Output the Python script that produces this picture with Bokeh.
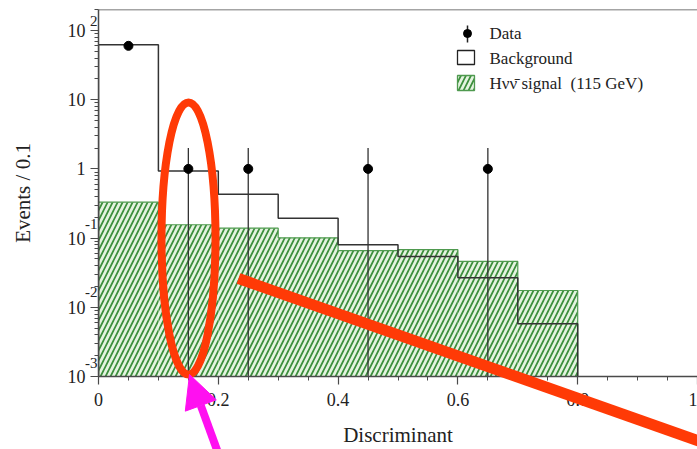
import math
from bokeh.plotting import figure
from bokeh.layouts import column, row
from bokeh.models import (Range1d, FixedTicker, CustomJSTickFormatter, Label, Span,
                          Arrow, NormalHead, ColumnDataSource)
from bokeh.embed import file_html
from bokeh.resources import INLINE

# ---------------- data ----------------
bin_edges = [0.0, 0.1, 0.2, 0.3, 0.4, 0.5, 0.6, 0.7, 0.8]
background = [62, 0.93, 0.43, 0.194, 0.080, 0.054, 0.0267, 0.0058]
signal = [0.33, 0.156, 0.139, 0.101, 0.066, 0.068, 0.046, 0.0175]
data_x = [0.05, 0.15, 0.25, 0.45, 0.65]
data_y = [60, 1, 1, 1, 1]
data_err = [7.7, 1, 1, 1, 1]

x_ticks = [0.0, 0.2, 0.4, 0.6, 0.8, 1.0]
x_tick_labels = ["0", "0.2", "0.4", "0.6", "0.8", "1"]
y_ticks = [1e-3, 1e-2, 1e-1, 1.0, 10.0, 100.0]
y_tick_labels = ["10", "10", "10", "1", "10", "10"]
y_tick_exponents = ["-3", "-2", "-1", "", "", "2"]

legend_labels = ["Data", "Background", "H\u03bd\u03bd\u0304 signal\u00a0\u00a0(115 GeV)"]
x_title = "Discriminant"
y_title = "Events / 0.1"

# ---------------- layout / style ----------------
W, H = 697, 449
L, R, T, B = 98, 0, 9, 73
Y_LO, Y_HI = 1e-3, 201.0
FONT = "Liberation Serif"
INK = "#222222"
AXIS = "#4a4a4a"
SIG_FILL = "#e4f3e0"
SIG_HATCH = "#3c8f3c"
SIG_LINE = "#4f9a4f"
RED = "#ff3a06"
MAGENTA = "#ff10f0"

LOG_LO, LOG_HI = math.log10(Y_LO), math.log10(Y_HI)
FRAME_W = W - L - R
FRAME_H = H - T - B


def dx(px):
    return (px - L) / FRAME_W


def dy(py):
    return 10 ** (LOG_LO + (T + FRAME_H - py) / FRAME_H * (LOG_HI - LOG_LO))


def to_py(v):
    return T + FRAME_H * (LOG_HI - math.log10(v)) / (LOG_HI - LOG_LO)


p = figure(width=W, height=H, x_range=Range1d(0, 1), y_range=Range1d(Y_LO, Y_HI),
           y_axis_type="log", output_backend="svg", toolbar_location=None,
           min_border_left=L, min_border_right=R, min_border_top=T, min_border_bottom=B)
p.outline_line_color = None
p.grid.visible = False
p.background_fill_color = "white"
p.border_fill_color = "white"

for ax in (p.xaxis[0], p.yaxis[0]):
    ax.axis_line_color = AXIS
    ax.axis_line_width = 1.5
    ax.major_tick_line_color = AXIS
    ax.major_tick_line_width = 1.2
    ax.major_tick_in = 0
    ax.major_tick_out = 8
    ax.minor_tick_line_color = AXIS
    ax.minor_tick_line_width = 1
    ax.minor_tick_in = 0
    ax.minor_tick_out = 4
    ax.major_label_text_font = FONT
    ax.major_label_text_font_size = "18px"
    ax.major_label_text_color = INK
    ax.axis_label_text_font = FONT
    ax.axis_label_text_font_size = "21px"
    ax.axis_label_text_font_style = "normal"
    ax.axis_label_text_color = INK

p.xaxis.ticker = FixedTicker(ticks=x_ticks, minor_ticks=[i * 0.05 for i in range(21)])
p.xaxis.formatter = CustomJSTickFormatter(args=dict(tvals=x_ticks, tlabels=x_tick_labels), code="""
let best = 0, bd = Infinity;
for (let i = 0; i < tvals.length; i++) { const d = Math.abs(tvals[i] - tick); if (d < bd) { bd = d; best = i; } }
return tlabels[best];
""")
p.xaxis.major_label_standoff = 8
p.xaxis.axis_label = x_title
p.xaxis.axis_label_standoff = 14

p.yaxis.ticker = FixedTicker(ticks=y_ticks,
                             minor_ticks=[m * 10 ** k for k in range(-3, 3) for m in range(2, 10)])
p.yaxis.formatter = CustomJSTickFormatter(args=dict(tvals=y_ticks, tlabels=y_tick_labels), code="""
let best = 0, bd = Infinity;
for (let i = 0; i < tvals.length; i++) { const d = Math.abs(Math.log10(tvals[i]) - Math.log10(tick)); if (d < bd) { bd = d; best = i; } }
return tlabels[best];
""")
p.yaxis.major_label_standoff = 5
p.yaxis.axis_label = y_title
p.yaxis.axis_label_standoff = 30

# top frame line
p.add_layout(Span(location=Y_HI, dimension="width", line_color=AXIS, line_width=1.5))

# ---------------- histograms ----------------
src = ColumnDataSource(dict(left=bin_edges[:-1], right=bin_edges[1:], sig=signal, bkg=background))
floor = Y_LO / 100
HATCH = dict(hatch_pattern="/", hatch_color=SIG_HATCH, hatch_scale=10, hatch_weight=1.7)
p.quad(left="left", right="right", top="sig", bottom=floor, source=src,
       fill_color=SIG_FILL, line_color=None, **HATCH)


def step_xy(edges, vals, base):
    xs, ys = [edges[0]], [base]
    for i, v in enumerate(vals):
        xs += [edges[i], edges[i + 1]]
        ys += [v, v]
    xs.append(edges[-1])
    ys.append(base)
    return xs, ys


sx, sy = step_xy(bin_edges, signal, floor)
p.line(sx, sy, line_color=SIG_LINE, line_width=1.2)
bx, by = step_xy(bin_edges, background, floor)
p.line(bx, by, line_color="#333333", line_width=1.5)

# ---------------- data points ----------------
lo = [max(v - e, floor) for v, e in zip(data_y, data_err)]
hi = [v + e for v, e in zip(data_y, data_err)]
p.segment(x0=data_x, y0=lo, x1=data_x, y1=hi, line_color="#333333", line_width=1.3)
p.scatter(data_x, data_y, size=9, marker="circle", fill_color="black", line_color="black")

# ---------------- legend ----------------
LX = 467
p.segment(x0=[dx(LX)], y0=[dy(25)], x1=[dx(LX)], y1=[dy(42)], line_color="#222222", line_width=1.5)
p.scatter([dx(LX)], [dy(33)], size=8, marker="circle", fill_color="black", line_color="black")
p.quad(left=[dx(457)], right=[dx(474)], top=[dy(50)], bottom=[dy(64)],
       fill_color=None, line_color="#222222", line_width=1.3)
p.quad(left=[dx(457)], right=[dx(474)], top=[dy(75)], bottom=[dy(90)],
       fill_color=SIG_FILL, line_color=SIG_LINE, line_width=1.3, **HATCH)
for txt, py in zip(legend_labels, [33, 58, 83]):
    p.add_layout(Label(x=dx(489), y=dy(py), text=txt, text_baseline="middle",
                       text_font=FONT, text_font_size="17px", text_color=INK))


def overlay(borders, xr, yr):
    f = figure(width=W, height=H, x_range=Range1d(*xr), y_range=Range1d(*yr),
               output_backend="svg", toolbar_location=None,
               min_border_left=borders[0], min_border_right=borders[1],
               min_border_top=borders[2], min_border_bottom=borders[3],
               x_axis_location=None, y_axis_location=None)
    f.outline_line_color = None
    f.grid.visible = False
    f.background_fill_alpha = 0
    f.border_fill_alpha = 0
    return f


# overlay B (same rows as the frame, full width): exponents of the y tick labels
ovB = overlay((0, 0, T, B), (0, W), (T + FRAME_H, T))
ovB.margin = (0, 0, 0, -W)
exp_offsets = [14, 15, 14, 0, 0, 9]
for t, e, off in zip(y_ticks, y_tick_exponents, exp_offsets):
    if e:
        ovB.add_layout(Label(x=L - 1, y=to_py(t) - off, text=e, text_align="right",
                             text_baseline="middle", text_font=FONT, text_font_size="15px",
                             text_color=INK))

# overlay A (same columns as the frame, full height): hand-drawn highlight marks
ovA = overlay((L, 0, 0, 0), (L, W), (H, 0))
ovA.margin = (-H, 0, 0, 0)
ovA.ellipse(x=[188], y=[238], width=54, height=272, fill_color=None, line_color=RED, line_width=8)
ovA.add_layout(Arrow(end=None, x_start=238, y_start=278, x_end=725, y_end=450,
                     line_color=RED, line_width=11))
ovA.add_layout(Arrow(end=NormalHead(size=33, fill_color=MAGENTA, line_color=MAGENTA),
                     x_start=224, y_start=470, x_end=189, y_end=374,
                     line_color=MAGENTA, line_width=8))

layout = column(row(p, ovB, spacing=0), ovA, spacing=0)
open("out.html", "w").write(file_html(layout, INLINE))
